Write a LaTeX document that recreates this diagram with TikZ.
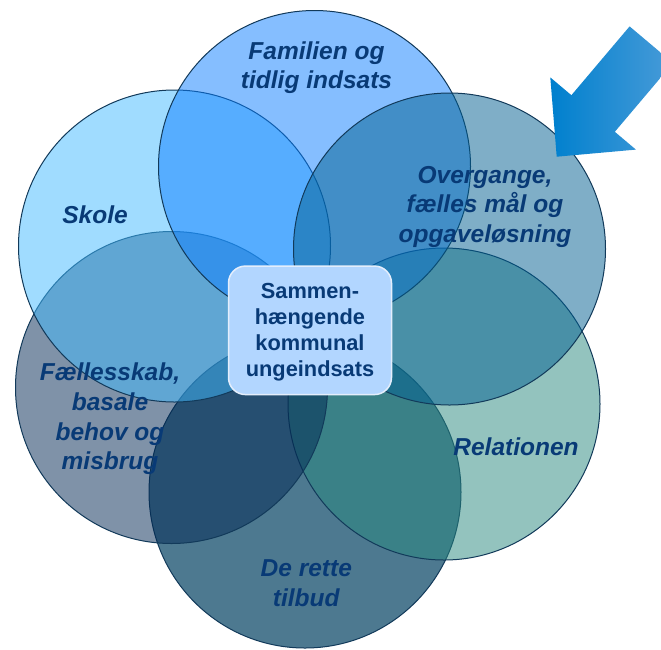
\documentclass[tikz,border=0pt]{standalone}
\usepackage{fontspec}
\setmainfont{Liberation Sans}
\definecolor{txt}{RGB}{8,58,118}
\definecolor{ring}{RGB}{18,58,90}
\definecolor{cBottom}{RGB}{77,121,144}
\definecolor{cRel}{RGB}{41,137,127}
\definecolor{cFael}{RGB}{0,39,83}
\definecolor{cSkole}{RGB}{67,187,255}
\definecolor{cTop}{RGB}{13,127,255}
\definecolor{cOver}{RGB}{1,95,145}
\definecolor{boxfill}{RGB}{178,214,255}
\definecolor{boxline}{RGB}{228,238,252}
\definecolor{arrA}{RGB}{0,128,206}
\definecolor{arrB}{RGB}{72,155,216}
\newcommand{\mylines}[1]{\begin{tabular}[t]{@{}c@{}}#1\end{tabular}}
\newcommand{\myclines}[1]{\begin{tabular}{@{}c@{}}#1\end{tabular}}
\begin{document}
\begin{tikzpicture}[x=1pt,y=-1pt,
  venn/.style={circle, draw=ring, line width=1pt, minimum size=312pt, inner sep=0pt},
  lbl/.style={anchor=base, inner sep=0pt, text=txt,
    font=\fontsize{24.5}{29.6}\selectfont\bfseries\itshape},
  hubbox/.style={draw=boxline, line width=1.5pt, fill=boxfill, rounded corners=17pt,
    minimum width=163pt, minimum height=128.5pt, inner sep=0pt, text=txt,
    font=\fontsize{21.8}{26.1}\selectfont\bfseries}]
\useasboundingbox (0,0) rectangle (661,649);
\clip (0,0) rectangle (661,649);
\fill[white] (0,0) rectangle (661,649);

% circles, in stacking order
\node[venn, fill=cBottom] (cDe) at (305,492) {};
\node[venn, fill=cRel, fill opacity=0.5] (cRel) at (444,404) {};
\node[venn, fill=cFael, fill opacity=0.5] (cFael) at (171.5,387.5) {};
\node[venn, fill=cSkole, fill opacity=0.5] (cSkole) at (174.5,246) {};
\node[venn, fill=cTop, fill opacity=0.5] (cFam) at (314.5,166.5) {};
\node[venn, fill=cOver, fill opacity=0.5] (cOver) at (449.5,249) {};

% centre box
\node[hubbox] (hub) at (310,330.3)
  {\raisebox{-1.9pt}[\height][\depth]{\myclines{Sammen-\\hængende\\kommunal\\ungeindsats}}};

% labels
\node[lbl] (tFam) at (316.5,59) {\mylines{Familien og\\tidlig indsats}};
\node[lbl] (tSkole) at (95,223.3) {Skole};
\node[lbl] (tOver) at (485,183.2) {\mylines{Overgange,\\fælles mål og\\opgaveløsning}};
\node[lbl] (tFael) at (110,380.8) {\mylines{Fællesskab,\\basale\\behov og\\misbrug}};
\node[lbl] (tRel) at (516,455) {Relationen};
\node[lbl] (tDe) at (306.3,576.5) {\mylines{De rette\\tilbud}};

% block arrow
\coordinate (aT) at (556.7,156.7);
\coordinate (aB1) at (550.3,77.4);
\coordinate (aS1) at (571.4,95.2);
\coordinate (aE1) at (629.6,26.4);
\coordinate (aE2) at (673.0,63.0);
\coordinate (aS2) at (614.8,131.8);
\coordinate (aB2) at (635.9,149.6);
\shade[left color=arrA, right color=arrB]
  (aT) -- (aB1) -- (aS1) -- (aE1) -- (aE2) -- (aS2) -- (aB2) -- cycle;
\end{tikzpicture}
\end{document}
